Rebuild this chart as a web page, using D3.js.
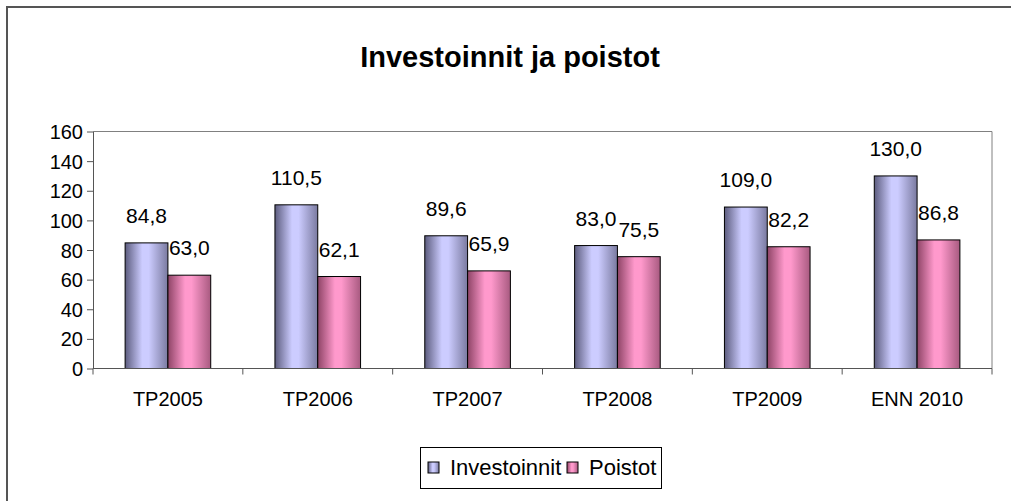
<!DOCTYPE html>
<html>
<head>
  <meta charset="UTF-8">
  <title>Investoinnit ja poistot</title>
  <script src="https://d3js.org/d3.v7.min.js"></script>
  <style>
    body { margin: 0; background: #fff; }
    text { font-family: Arial, "Liberation Sans", sans-serif; fill: #000; }
  </style>
</head>
<body>
  <div id="chart"></div>
  <script>
    // data
    const categories = ["TP2005", "TP2006", "TP2007", "TP2008", "TP2009", "ENN 2010"];
    const investoinnit = [84.8, 110.5, 89.6, 83.0, 109.0, 130.0];
    const poistot = [63.0, 62.1, 65.9, 75.5, 82.2, 86.8];
    const seriesNames = ["Investoinnit", "Poistot"];
    const yTicks = [0, 20, 40, 60, 80, 100, 120, 140, 160];

    const W = 1011, H = 501;
    const plot = { left: 93, right: 992, top: 131.5, bottom: 368.5 };

    const svg = d3.select("#chart")
      .append("svg")
      .attr("width", W)
      .attr("height", H);

    // gradients, dark edges and light middle like the old Excel bars
    const defs = svg.append("defs");
    const grads = [
      { id: "g0", dark: "#5c5c7e", light: "#ccccff", mid: "#7a7aa0" },
      { id: "g1", dark: "#8e4466", light: "#ff99cc", mid: "#a85a80" }
    ];
    grads.forEach(g => {
      const lg = defs.append("linearGradient").attr("id", g.id)
        .attr("x1", "0%").attr("x2", "100%").attr("y1", "0%").attr("y2", "0%");
      lg.append("stop").attr("offset", "0%").attr("stop-color", g.dark);
      lg.append("stop").attr("offset", "40%").attr("stop-color", g.light);
      lg.append("stop").attr("offset", "55%").attr("stop-color", g.light);
      lg.append("stop").attr("offset", "100%").attr("stop-color", g.mid);
    });

    // outer chart border (only top and left are in the picture)
    svg.append("path")
      .attr("d", `M7,${H} V7 H${W}`)
      .attr("fill", "none")
      .attr("stroke", "#555")
      .attr("stroke-width", 2);

    svg.append("text")
      .attr("x", 510)
      .attr("y", 67)
      .attr("text-anchor", "middle")
      .style("font-size", "29px")
      .style("font-weight", "bold")
      .text("Investoinnit ja poistot");

    const x = d3.scaleBand()
      .domain(categories)
      .range([plot.left, plot.right]);

    const xs = d3.scaleBand()
      .domain(seriesNames)
      .range([0, x.bandwidth()])
      .paddingInner(0)
      .paddingOuter(0.75);

    const y = d3.scaleLinear()
      .domain([0, 160])
      .range([plot.bottom, plot.top]);

    // plot area frame: top and right edges
    svg.append("path")
      .attr("d", `M${plot.left},${plot.top} H${plot.right} V${plot.bottom}`)
      .attr("fill", "none")
      .attr("stroke", "#808080")
      .attr("stroke-width", 1);

    const series = [investoinnit, poistot];
    const groups = svg.selectAll(".series")
      .data(series)
      .enter()
      .append("g")
      .attr("class", "series");

    groups.selectAll("rect")
      .data((vals, i) => vals.map((v, j) => ({ v: v, cat: categories[j], s: i })))
      .enter()
      .append("rect")
      .attr("x", d => x(d.cat) + xs(seriesNames[d.s]))
      .attr("y", d => y(d.v))
      .attr("width", xs.bandwidth())
      .attr("height", d => y(0) - y(d.v))
      .attr("fill", d => "url(#g" + d.s + ")")
      .attr("stroke", "#000")
      .attr("stroke-width", 1);

    groups.selectAll("text")
      .data((vals, i) => vals.map((v, j) => ({ v: v, cat: categories[j], s: i })))
      .enter()
      .append("text")
      .attr("x", d => x(d.cat) + xs(seriesNames[d.s]) + xs.bandwidth() / 2)
      .attr("y", d => y(d.v) - 20)
      .attr("text-anchor", "middle")
      .style("font-size", "21px")
      .text(d => d.v.toFixed(1).replace(".", ","));

    // y axis
    const yAxis = svg.append("g")
      .attr("transform", `translate(${plot.left},0)`)
      .call(d3.axisLeft(y).tickValues(yTicks).tickSize(6).tickSizeOuter(0).tickPadding(4));
    yAxis.select(".domain").attr("stroke", "#555");
    yAxis.selectAll(".tick line").attr("stroke", "#555");
    yAxis.selectAll("text").style("font-size", "20px").attr("dy", "0.35em");

    // x axis: labels centred, ticks on category boundaries
    const xAxis = svg.append("g")
      .attr("transform", `translate(0,${plot.bottom})`)
      .call(d3.axisBottom(x).tickSize(0).tickPadding(23));
    xAxis.select(".domain").remove();
    xAxis.selectAll("text").style("font-size", "20px");
    svg.append("line")
      .attr("x1", plot.left).attr("x2", plot.right)
      .attr("y1", plot.bottom).attr("y2", plot.bottom)
      .attr("stroke", "#555");
    const bounds = categories.map(c => x(c)).concat([plot.right]);
    svg.selectAll(".xtick")
      .data(bounds)
      .enter()
      .append("line")
      .attr("class", "xtick")
      .attr("x1", d => d).attr("x2", d => d)
      .attr("y1", plot.bottom).attr("y2", plot.bottom + 6)
      .attr("stroke", "#555");

    // legend
    const legend = svg.append("g");
    legend.append("rect")
      .attr("x", 420.5).attr("y", 447.5)
      .attr("width", 241).attr("height", 41)
      .attr("fill", "#fff")
      .attr("stroke", "#000");
    const legX = [428, 567];
    seriesNames.forEach((name, i) => {
      legend.append("rect")
        .attr("x", legX[i]).attr("y", 462)
        .attr("width", 11).attr("height", 11)
        .attr("fill", "url(#g" + i + ")")
        .attr("stroke", "#000");
      legend.append("text")
        .attr("x", legX[i] + 22)
        .attr("y", 475)
        .style("font-size", "22px")
        .text(name);
    });
  </script>
</body>
</html>
